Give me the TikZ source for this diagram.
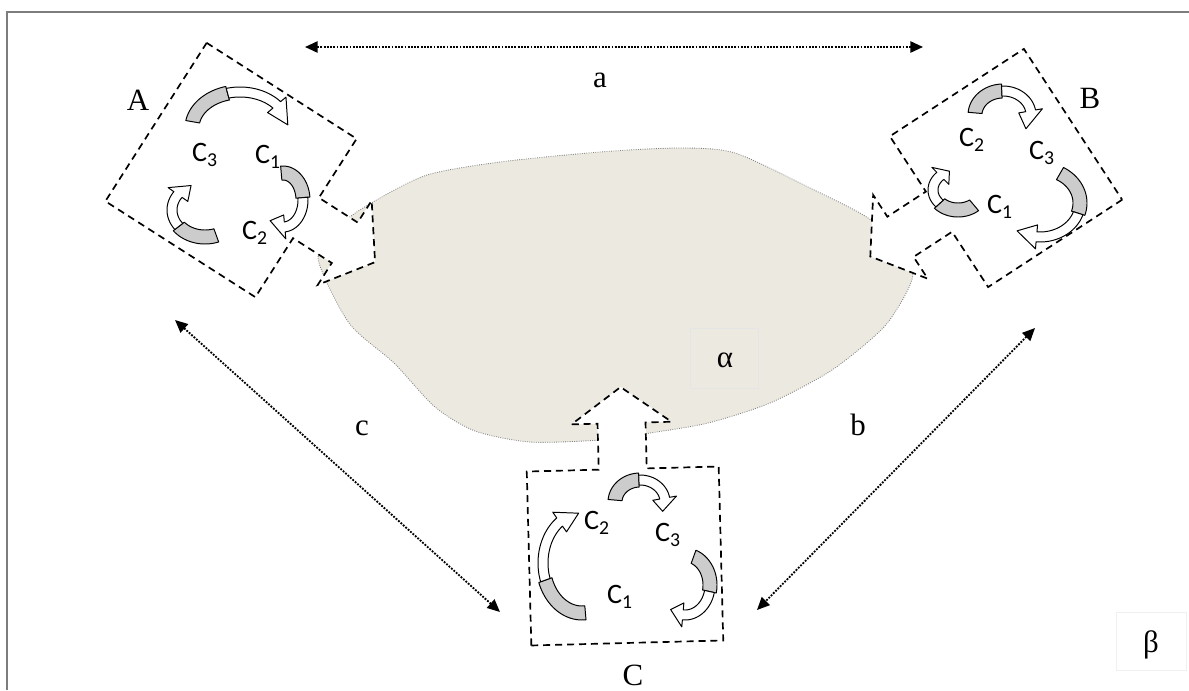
\documentclass[tikz,border=0pt]{standalone}
\usepackage{fontspec}
\setmainfont{Liberation Serif}
\newfontfamily\calibri{Carlito}
\usetikzlibrary{arrows.meta,calc}
\definecolor{pond}{RGB}{236,233,224}
\definecolor{framegray}{RGB}{125,125,125}

% dashed square with a block arrow on its local right side
\newcommand{\gatebox}[4]{%
  \begin{scope}[shift={(#1)}, rotate=#2]
    \draw[gate] (-#3,-#4) -- (#3,-#4) -- (#3,-24) -- ({#3+46},-24) -- ({#3+46},-50)
      -- ({#3+82},0) -- ({#3+46},50) -- ({#3+46},24) -- (#3,24) -- (#3,#4) -- (-#3,#4) -- cycle;
  \end{scope}}

% curved ribbon arrow: centre x, centre y, radius x, radius y, tail, neck, tip angle
\newcommand{\turnarrow}[7]{%
  \pgfmathsetmacro\mida{(#5+#6)/2}%
  \draw[turn, fill=gray!40] plot[domain=#5:\mida] ({#1+(#3+7)*cos(\x)},{#2+(#4+7)*sin(\x)})
    -- plot[domain=\mida:#5] ({#1+(#3-7)*cos(\x)},{#2+(#4-7)*sin(\x)}) -- cycle;
  \draw[turn, fill=white] plot[domain=\mida:#6] ({#1+(#3+5)*cos(\x)},{#2+(#4+5)*sin(\x)})
    -- ({#1+(#3+12)*cos(#6)},{#2+(#4+12)*sin(#6)})
    -- ({#1+#3*cos(#7)},{#2+#4*sin(#7)})
    -- ({#1+(#3-12)*cos(#6)},{#2+(#4-12)*sin(#6)})
    -- plot[domain=#6:\mida] ({#1+(#3-5)*cos(\x)},{#2+(#4-5)*sin(\x)}) -- cycle;}

\begin{document}
\begin{tikzpicture}[x=0.025cm, y=-0.025cm,
    gate/.style={draw, dash pattern=on 5pt off 3.5pt, line width=1.2pt, fill=white, line join=miter},
    turn/.style={draw, line width=0.7pt, line join=round},
    span/.style={densely dotted, line width=1.3pt, {Triangle[length=9pt,width=8pt]}-{Triangle[length=9pt,width=8pt]}},
    letter/.style={font=\fontsize{22}{24}\selectfont},
    cell/.style={font=\calibri\fontsize{20}{22}\selectfont, inner sep=1pt}
    ]
    \useasboundingbox (0,0) rectangle (1189,690);
    \draw[framegray, line width=1.3pt] (7,690) -- (7,12) -- (1189,12);

    \filldraw[fill=pond, draw=gray, densely dotted, line width=0.6pt]
      plot[smooth cycle, tension=0.45] coordinates {(318,258) (349,323) (394,363) (435,407)
      (475,431) (530,442) (600,440) (650,433) (708,423) (770,403) (832,370) (884,327)
      (910,285) (910,262) (871,220) (810,188) (735,153) (680,148) (600,152) (500,162)
      (427,175) (373,202) (340,225)};
    \node (alpha) [draw=white!80!gray, fill=pond, minimum width=1.7cm, minimum height=1.5cm] at (724,358) {};
    \node [letter] at (725,360) {α};
    \node (beta) [draw=white!88!gray, minimum width=1.75cm, minimum height=1.45cm] at (1151,641) {};
    \node [letter] at (1151,645) {β};

    \coordinate (boxA) at (231,170);
    \coordinate (boxB) at (1006,168);
    \coordinate (boxC) at (625,556);
    \gatebox{boxA}{-32.6}{89}{94}
    \gatebox{boxB}{-146.9}{80}{90}
    \gatebox{boxC}{91.5}{87}{96}

    \turnarrow{240}{128}{48}{36}{190}{320}{355}
    \turnarrow{283}{200}{20}{27}{265}{445}{490}
    \turnarrow{205}{210}{33}{27}{70}{215}{245}

    \turnarrow{1003}{115}{28}{24}{185}{350}{395}
    \turnarrow{1040}{203}{40}{34}{300}{455}{485}
    \turnarrow{958}{190}{25}{20}{50}{225}{250}

    \turnarrow{640}{502}{25}{22}{185}{350}{385}
    \turnarrow{685}{585}{25}{30}{290}{455}{485}
    \turnarrow{582}{563}{39}{50}{85}{235}{265}

    \node (A3) [cell] at (205,155) {C\textsubscript{3}};
    \node (A1) [cell] at (268,157) {C\textsubscript{1}};
    \node (A2) [cell] at (255,233) {C\textsubscript{2}};
    \node (B2) [cell] at (972,140) {C\textsubscript{2}};
    \node (B3) [cell] at (1042,153) {C\textsubscript{3}};
    \node (B1) [cell] at (1000,207) {C\textsubscript{1}};
    \node (C2) [cell] at (597,523) {C\textsubscript{2}};
    \node (C3) [cell] at (668,535) {C\textsubscript{3}};
    \node (C1) [cell] at (620,597) {C\textsubscript{1}};

    \node (labA) [letter] at (138,100) {A};
    \node (labB) [letter] at (1090,98) {B};
    \node (labC) [letter] at (633,675) {C};

    \coordinate (aL) at (305,47);
    \coordinate (aR) at (923,47);
    \coordinate (bT) at (1035,328);
    \coordinate (bB) at (757,610);
    \coordinate (cT) at (175,320);
    \coordinate (cB) at (500,612);
    \draw[span] (aL) -- (aR);
    \draw[span] (bT) -- (bB);
    \draw[span] (cT) -- (cB);
    \node (la) [letter] at (600,80) {a};
    \node (lb) [letter] at (858,425) {b};
    \node (lc) [letter] at (362,428) {c};
\end{tikzpicture}
\end{document}
